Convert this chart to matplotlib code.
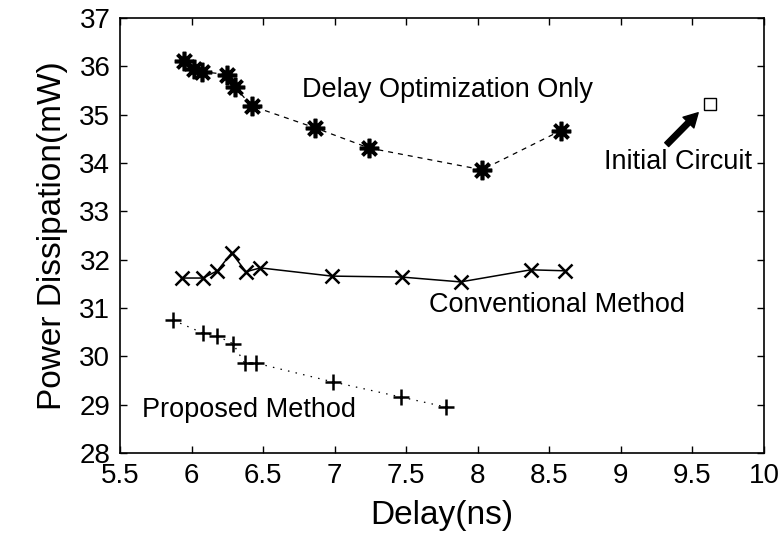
import matplotlib
matplotlib.use("Agg")
import matplotlib.pyplot as plt

plt.rcParams["font.family"] = ["Liberation Sans", "DejaVu Sans"]

# delay (ns) / power (mW) for each optimisation run
delay_opt_x = [5.95, 6.02, 6.07, 6.25, 6.30, 6.42, 6.86, 7.24, 8.03, 8.58]
delay_opt_y = [36.10, 35.95, 35.89, 35.83, 35.58, 35.18, 34.73, 34.31, 33.86, 34.67]

conv_x = [5.93, 6.08, 6.18, 6.28, 6.38, 6.48, 6.98, 7.47, 7.88, 8.37, 8.61]
conv_y = [31.62, 31.62, 31.77, 32.14, 31.75, 31.83, 31.66, 31.64, 31.54, 31.79, 31.77]

prop_x = [5.87, 6.08, 6.18, 6.29, 6.37, 6.45, 6.99, 7.46, 7.78]
prop_y = [30.75, 30.48, 30.42, 30.26, 29.86, 29.86, 29.47, 29.16, 28.95]

initial_x = 9.62
initial_y = 35.22

x_ticks = [5.5, 6, 6.5, 7, 7.5, 8, 8.5, 9, 9.5, 10]
x_ticklabels = ["5.5", "6", "6.5", "7", "7.5", "8", "8.5", "9", "9.5", "10"]
y_ticks = list(range(28, 38))

fig = plt.figure(figsize=(7.82, 5.43), dpi=100)
ax = fig.add_axes([0.1535, 0.1657, 0.8235, 0.8012])

ax.plot(delay_opt_x, delay_opt_y, color="black", lw=0.9, ls=(0, (4, 4)),
        marker=(8, 2, 0), ms=14, mew=2.6)
ax.plot(conv_x, conv_y, color="black", lw=1.1, ls="-",
        marker="x", ms=10, mew=1.8)
ax.plot(prop_x, prop_y, color="black", lw=0.9, ls=(0, (1.2, 5)),
        marker="+", ms=11, mew=1.8)
ax.plot([initial_x], [initial_y], marker="s", ms=9, mfc="white",
        mec="black", mew=1.0, ls="none")

ax.annotate("", xy=(9.54, 35.04), xytext=(9.32, 34.38),
            arrowprops=dict(facecolor="black", edgecolor="black",
                            width=4, headwidth=11, headlength=10))

ax.text(6.77, 35.52, "Delay Optimization Only", fontsize=19.5, va="center", ha="left")
ax.text(8.88, 34.02, "Initial Circuit", fontsize=19.5, va="center", ha="left")
ax.text(7.66, 31.06, "Conventional Method", fontsize=19.5, va="center", ha="left")
ax.text(5.65, 28.89, "Proposed Method", fontsize=19.5, va="center", ha="left")

ax.set_xlim(5.5, 10)
ax.set_ylim(28, 37)
ax.set_xticks(x_ticks)
ax.set_xticklabels(x_ticklabels)
ax.set_yticks(y_ticks)
ax.tick_params(direction="in", length=5, width=1, labelsize=20,
               top=True, right=True, pad=7)

for spine in ax.spines.values():
    spine.set_linewidth(1.2)

ax.set_xlabel("Delay(ns)", fontsize=24, labelpad=8)
ax.set_ylabel("Power Dissipation(mW)", fontsize=24, labelpad=8)

fig.savefig("out.png", dpi=100)
